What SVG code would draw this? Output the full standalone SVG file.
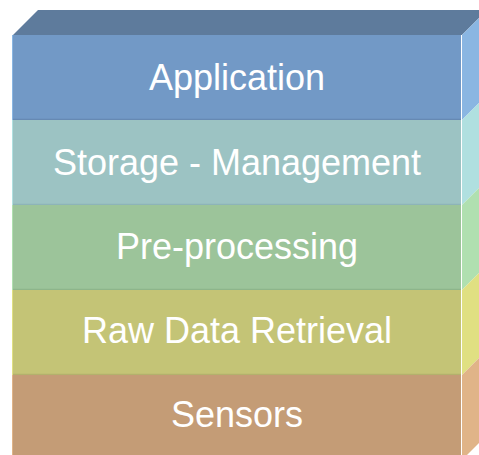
<svg xmlns="http://www.w3.org/2000/svg" width="479" height="455" viewBox="0 0 479 455">
  <style>
    .label { font-family: "Liberation Sans", Arial, sans-serif; font-size: 36px; fill: #ffffff; text-anchor: middle; }
    .edge { fill: none; stroke-width: 1.5; }
  </style>
  <rect width="479" height="455" fill="#ffffff"/>

  <!-- top face of the stack -->
  <g id="top-face">
    <polygon points="13,35 38,10 487,10 462,35" fill="#5E7B9C"/>
  </g>

  <g id="layer-application">
    <rect x="13" y="35" width="448" height="85" fill="#7299C6"/>
    <rect x="12" y="35" width="1" height="85" fill="#8AB6E2"/>
    <polygon points="462,35 487,10 487,95 462,120" fill="#8AB6E2"/>
    <line class="edge" x1="13" y1="119.5" x2="461" y2="119.5" stroke="#6689B3"/>
    <text class="label" x="237" y="90">Application</text>
  </g>

  <g id="layer-storage">
    <rect x="13" y="120" width="448" height="85" fill="#9CC3C3"/>
    <rect x="12" y="120" width="1" height="85" fill="#B0E0E0"/>
    <polygon points="462,120 487,95 487,180 462,205" fill="#B0E0E0"/>
    <line class="edge" x1="13" y1="204.5" x2="461" y2="204.5" stroke="#8DB4B8"/>
    <text class="label" x="237" y="175">Storage - Management</text>
  </g>

  <g id="layer-preprocessing">
    <rect x="13" y="205" width="448" height="85" fill="#9CC49A"/>
    <rect x="12" y="205" width="1" height="85" fill="#B0E0B0"/>
    <polygon points="462,205 487,180 487,265 462,290" fill="#B0E0B0"/>
    <line class="edge" x1="13" y1="289.5" x2="461" y2="289.5" stroke="#8DB58B"/>
    <text class="label" x="237" y="259">Pre-processing</text>
  </g>

  <g id="layer-raw-data">
    <rect x="13" y="290" width="448" height="85" fill="#C4C476"/>
    <rect x="12" y="290" width="1" height="85" fill="#E0E082"/>
    <polygon points="462,290 487,265 487,350 462,375" fill="#E0E082"/>
    <line class="edge" x1="13" y1="374.5" x2="461" y2="374.5" stroke="#B3B16C"/>
    <text class="label" x="237" y="343">Raw Data Retrieval</text>
  </g>

  <g id="layer-sensors">
    <rect x="13" y="375" width="448" height="85" fill="#C49C76"/>
    <rect x="12" y="375" width="1" height="85" fill="#E0B488"/>
    <polygon points="462,375 487,350 487,435 462,460" fill="#E0B488"/>
    <text class="label" x="237" y="427">Sensors</text>
  </g>

  <g id="connectors"></g>
</svg>
